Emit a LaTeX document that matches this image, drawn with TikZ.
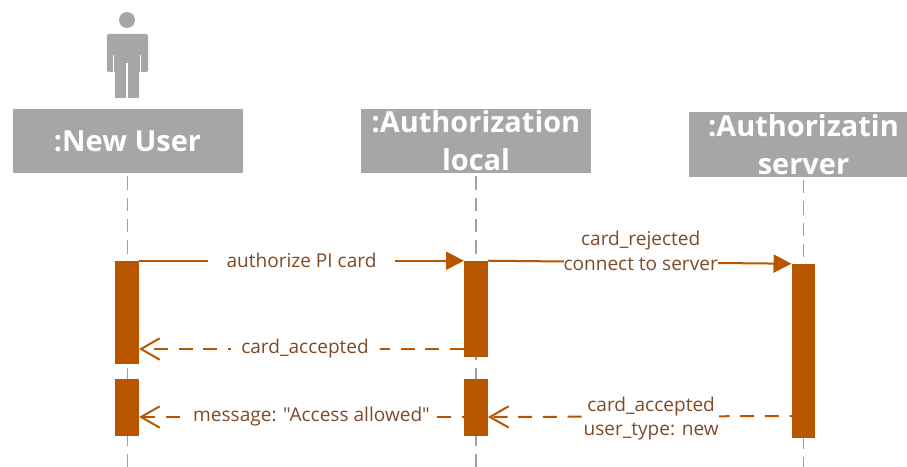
\documentclass[tikz,border=0pt]{standalone}
\usepackage{fontspec}
\setmainfont{Open Sans}[Ligatures=TeXOff]
\usetikzlibrary{arrows.meta}

\definecolor{headgray}{HTML}{A6A6A6}
\definecolor{linegray}{HTML}{A0A0A0}
\definecolor{barorange}{HTML}{B85600}
\definecolor{msgbrown}{HTML}{7F4A28}

\begin{document}
\begin{tikzpicture}[x=0.75pt,y=-0.75pt]

\tikzstyle{head}=[fill=headgray, text=white, font=\fontsize{21.7}{28.5}\selectfont\bfseries, align=center, minimum width=172.5pt, minimum height=48pt, inner sep=0pt]
\tikzstyle{bar}=[fill=barorange, minimum width=17.6pt, inner sep=0pt]
\tikzstyle{life}=[linegray, line width=1.2pt, dash pattern=on 10pt off 6pt, shorten <=2.5pt]
\tikzstyle{msg}=[fill=white, text=msgbrown, font=\fontsize{14.3}{18.5}\selectfont, align=center, inner ysep=0pt]
\tikzstyle{call}=[barorange, line width=1.5pt, -{Triangle[length=13.5pt,width=13.5pt]}]
\tikzstyle{back}=[barorange, line width=1.5pt, dash pattern=on 10.5pt off 8pt, -{Straight Barb[length=14pt,width=16pt,line width=1.5pt]}]

\useasboundingbox (0,0) rectangle (907,467);
\clip (0,0) rectangle (907,467);

% actor
\fill[headgray] (127,20) circle (8);
\fill[headgray, rounded corners=1.5pt] (107,72) -- (107,34) -- (148,34) -- (148,72) -- cycle;
\fill[headgray] (115,60) rectangle (139,98);
\draw[white, line width=0.8pt] (113.5,55) -- (113.5,72.5);
\draw[white, line width=0.8pt] (140.5,55) -- (140.5,72.5);
\draw[white, line width=0.8pt] (127,63) -- (127,98.5);

\node [head] (head_user) at (127.5,141) {:New User};
\node [head] (head_local) at (476,141) {:Authorization\\local};
\node [head] (head_server) at (803.5,144.5) {:Authorizatin\\server};

\coordinate (end_user) at (127.5,467);
\coordinate (end_local) at (476,467);
\coordinate (end_server) at (803.5,467);

\draw[life] (head_user) ++(0,32) -- (end_user);
\draw[life] (head_local) ++(0,32) -- (end_local);
\draw[life] (head_server) ++(0,32) -- (end_server);

\node [bar, minimum height=77.25pt] (bar_user1) at (127,312.5) {};
\node [bar, minimum height=42.75pt] (bar_user2) at (127,407.5) {};
\node [bar, minimum height=72pt] (bar_local1) at (476,309) {};
\node [bar, minimum height=42.75pt] (bar_local2) at (476,407.5) {};
\node [bar, minimum height=130.5pt] (bar_server) at (803.5,351) {};

\coordinate (a_user1) at (bar_user1.east |- 0,349);
\coordinate (a_local1) at (bar_local1.west |- 0,349);
\coordinate (a_user2) at (bar_user2.east |- 0,417);
\coordinate (a_local2) at (bar_local2.center |- 0,417);
\coordinate (a_local3) at (bar_local2.east |- 0,417);
\coordinate (a_server) at (bar_server.center |- 0,416);

\draw[call] (bar_user1.north east) -- node [msg, pos=0.5, inner xsep=14pt] {authorize PI card} (bar_local1.north west);
\draw[call] (bar_local1.north east) -- node [msg, pos=0.503, inner xsep=0pt, yshift=8.5pt] {card\_rejected\\connect to server} (bar_server.north west);
\draw[back] (a_local1) -- node [msg, pos=0.489, inner xsep=8pt] {card\_accepted} (a_user1);
\draw[back] (a_local2) -- node [msg, pos=0.488, inner xsep=2pt] {message: "Access allowed"} (a_user2);
\draw[back] (a_server) -- node [msg, pos=0.483, inner xsep=0pt, yshift=-1.5pt] {card\_accepted\\user\_type: new} (a_local3);

\end{tikzpicture}
\end{document}
